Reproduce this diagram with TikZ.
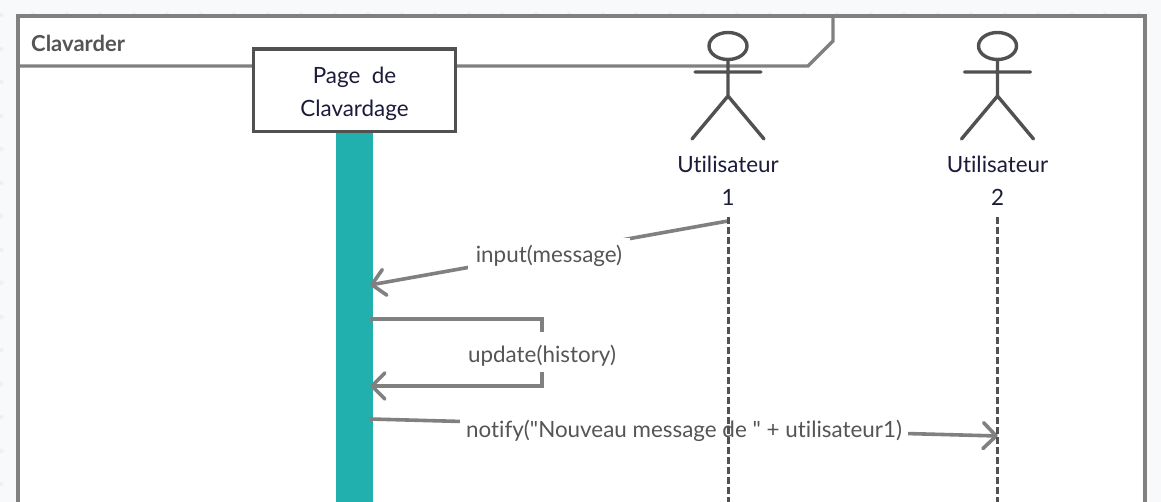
\documentclass[tikz,border=0pt]{standalone}
\usepackage{fontspec}
\setmainfont{Lato}[Ligatures={TeXOff,CommonOff}]
\usetikzlibrary{arrows.meta}
\definecolor{bgc}{HTML}{F8F9FB}
\definecolor{framec}{HTML}{808080}
\definecolor{darkc}{HTML}{515151}
\definecolor{inkc}{HTML}{1B1B3A}
\definecolor{labc}{HTML}{555555}
\definecolor{tealc}{HTML}{22B0AE}
\tikzset{
  x=1pt,y=-1pt,
  framel/.style={draw=framec,line width=3.4pt},
  actorl/.style={draw=darkc,line width=3.4pt,line cap=round},
  life/.style={draw=darkc,line width=3pt,dash pattern=on 7.3pt off 2.7pt},
  msg/.style={draw=framec,line width=3.6pt},
  openhead/.style={-{Straight Barb[length=13pt,width=26pt,line width=3.6pt,round]}},
  msglabel/.style={fill=white,text=labc,font=\fontsize{22.4}{26}\selectfont,inner ysep=0pt,anchor=base},
  actorlabel/.style={text=inkc,font=\fontsize{22.4}{26}\selectfont,inner sep=0pt,align=center},
}
\begin{document}
\begin{tikzpicture}
\useasboundingbox (0,0) rectangle (1161,502);
\fill[bgc] (0,0) rectangle (1161,502);
\foreach \y in {15,49,82,116,149,183,216,250,283,317,350,384,417,451,484}
  \fill[framec!12] (1,\y) circle (2.5);
\foreach \x in {33,67,100,134,167,201,234,268,301,335,368,402,435,469,502,536,569,603,636,670,703,737,770,804,837,871,904,938,971,1005,1038,1072,1105,1139}
  \fill[framec!12] (\x,14) circle (2.2);
% frame
\fill[white] (18,16) rectangle (1145,502);
\draw[framel] (18,502) -- (18,16) -- (1145,16) -- (1145,502);
\draw[framel] (18,66) -- (808,66) -- (833,41) -- (833,16);
\node[anchor=west,text=labc,font=\fontsize{22}{26}\selectfont\bfseries,inner sep=0pt] (title) at (31,43) {Clavarder};
% activation bar
\fill[tealc] (336,130) rectangle (373,502);
% page box
\node[draw=darkc,line width=3.3pt,fill=white,outer sep=0pt,minimum width=202pt,minimum height=82.5pt,inner sep=0pt,anchor=north west] (page) at (253.5,49) {};
\node[text=inkc,align=center,font=\fontsize{22.4}{33}\selectfont,inner sep=0pt] (pagetext) at ([yshift=-3.5pt]page.center) {Page\ \ de\\Clavardage};
% messages
\coordinate (u1top) at (728,221);
\coordinate (u1in) at (370,285);
\coordinate (a1) at (370,319);
\coordinate (a2) at (542,319);
\coordinate (a3) at (542,386);
\coordinate (a4) at (370,386);
\coordinate (n1) at (370,419);
\coordinate (n2) at (998,436);
\draw[msg,openhead] (u1top) -- (u1in);
\node[msglabel,inner xsep=7.5pt,text height=25pt,text depth=13pt] (lab1) at (549,263) {input(message)};
\draw[msg,openhead] (a1) -- (a2) -- (a3) -- (a4);
\node[msglabel,inner xsep=4pt,text height=30pt,text depth=10pt] (lab2) at (542,362) {update(history)};
\draw[msg,openhead] (n1) -- (n2);
\node[msglabel,inner xsep=6pt,text height=20pt,text depth=6pt] (lab3) at (684,437) {notify("Nouveau message de " + utilisateur1)};
% actor 1
\coordinate (h1) at (728,46);
\draw[actorl] (h1) ellipse (19 and 13.5);
\draw[actorl] (728,59.5) -- (728,96) (695,72) -- (761,72) (692,139) -- (728,96) -- (764,139);
\node[actorlabel] (ul1) at (728,164) {Utilisateur};
\node[actorlabel] (num1) at (728,197) {1};
\draw[life] (728,217) -- (728,502);
% actor 2
\coordinate (h2) at (997.5,46);
\draw[actorl] (h2) ellipse (19 and 13.5);
\draw[actorl] (997.5,59.5) -- (997.5,96) (964.5,72) -- (1030.5,72) (961.5,139) -- (997.5,96) -- (1033.5,139);
\node[actorlabel] (ul2) at (997.5,164) {Utilisateur};
\node[actorlabel] (num2) at (997.5,197) {2};
\draw[life] (997.5,217) -- (997.5,502);
\end{tikzpicture}
\end{document}
